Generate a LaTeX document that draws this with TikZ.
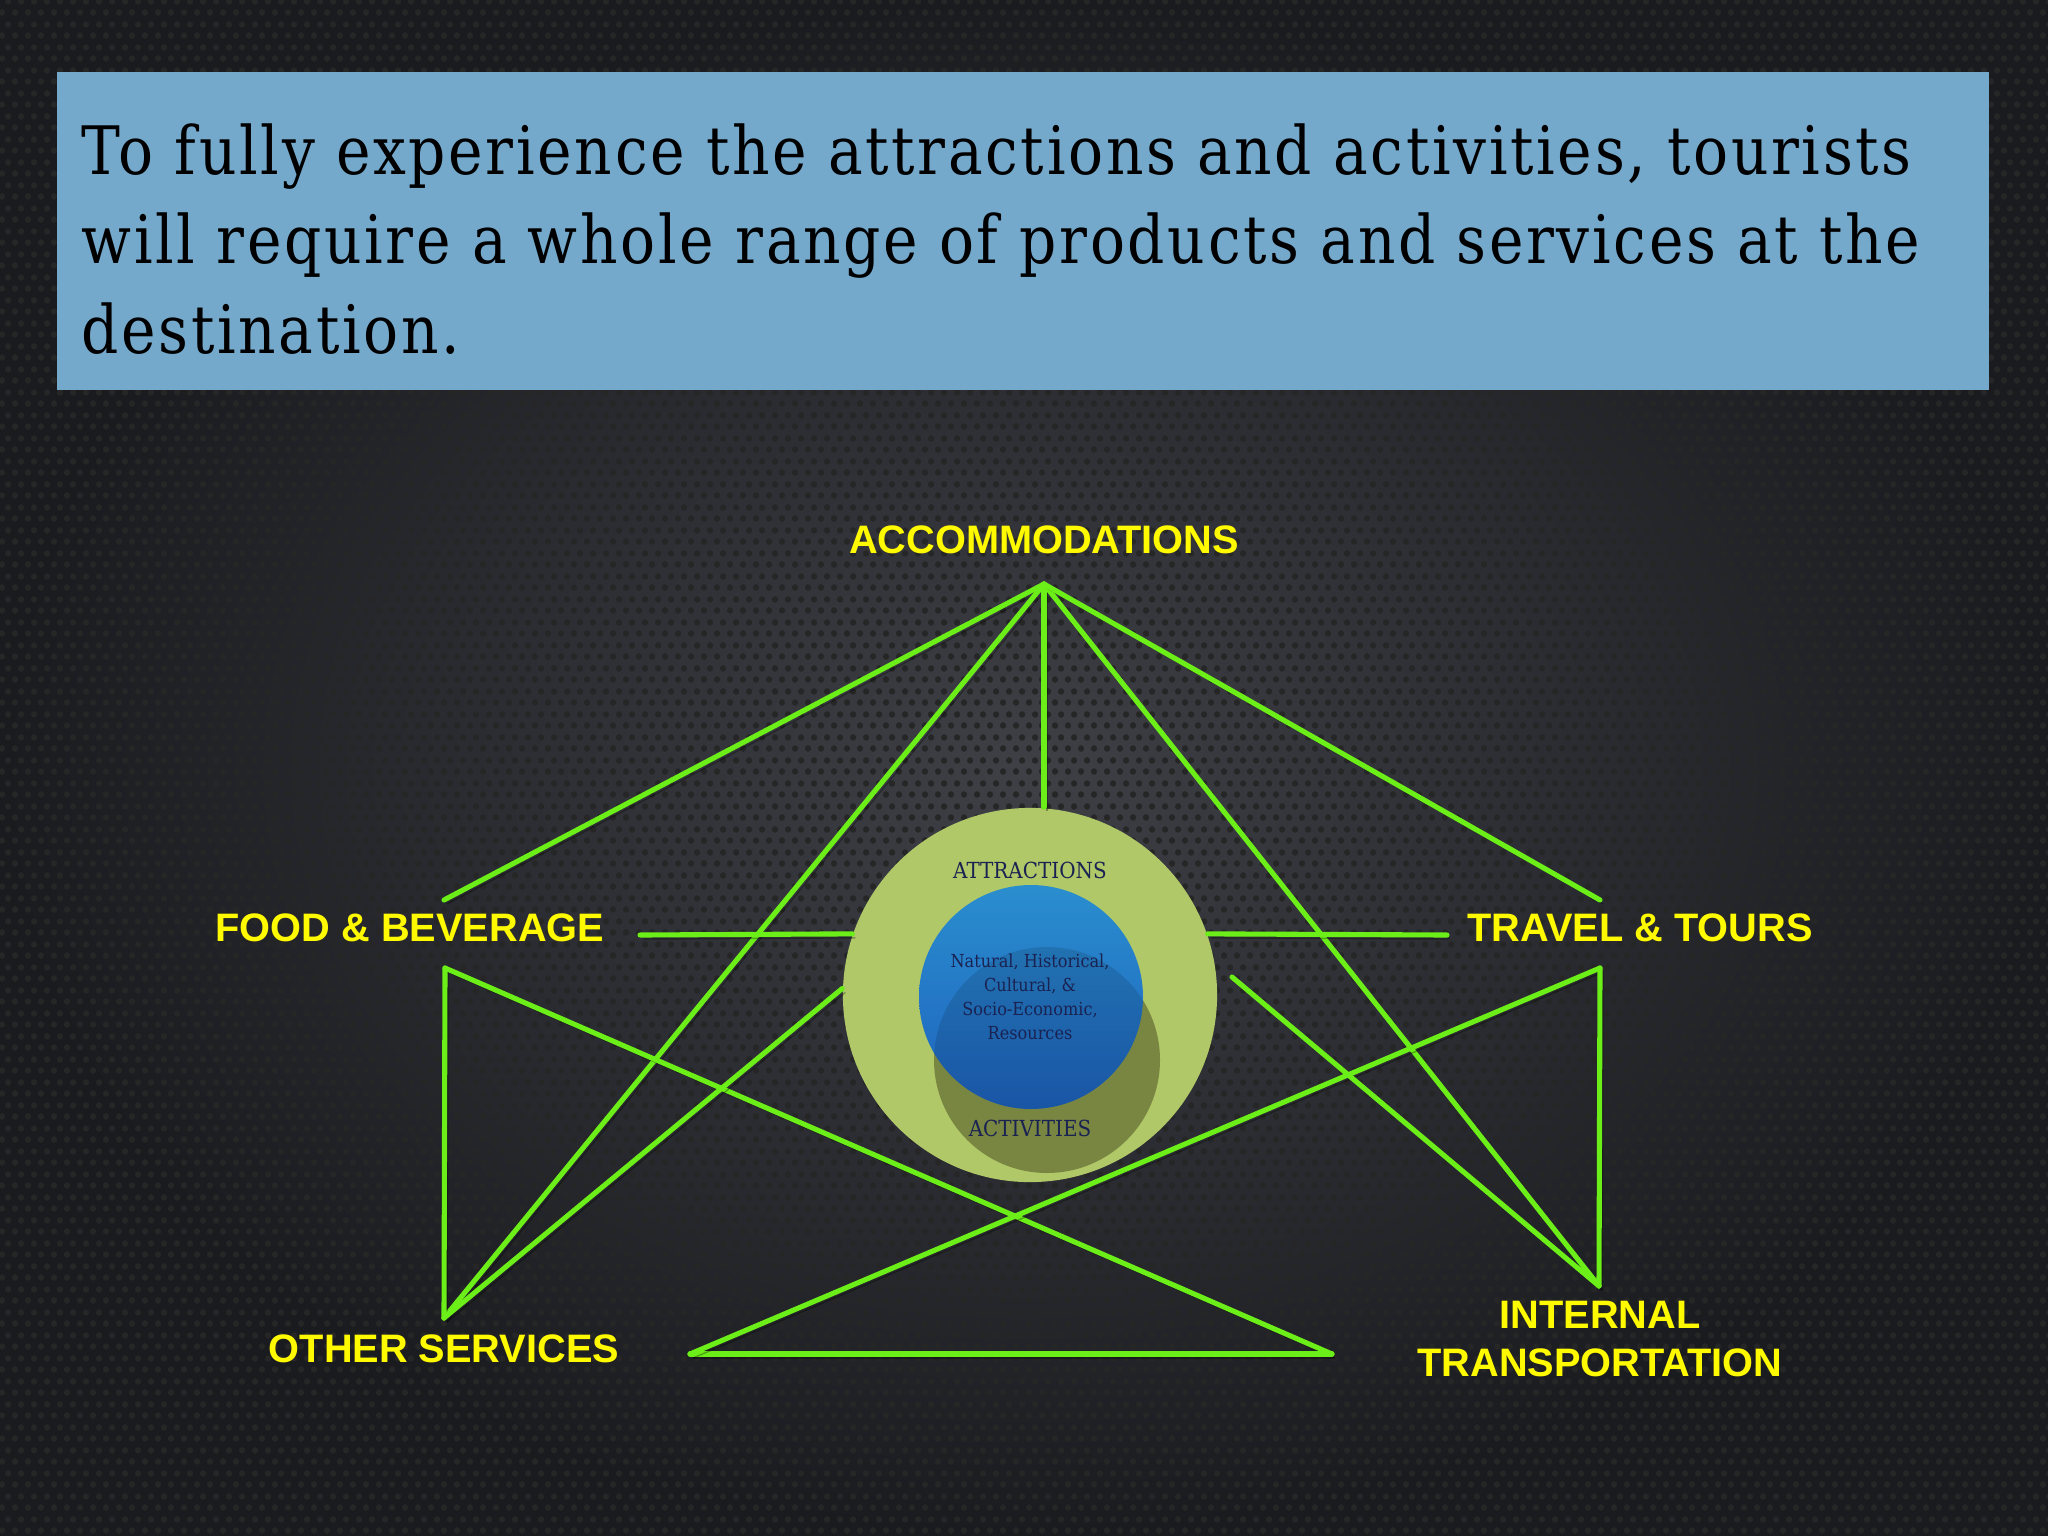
\documentclass[tikz,border=0pt]{standalone}
\usepackage{fontspec}
\usepackage{tikz}
\usetikzlibrary{calc,positioning,shadings,patterns}
\setmainfont{Liberation Sans}
\newfontfamily\slabfont[FakeStretch=0.872,LetterSpace=4]{DejaVu Serif}
\newfontfamily\smallslab[FakeStretch=0.9]{DejaVu Serif}
\definecolor{slidedark}{RGB}{26,27,31}
\definecolor{slidemid}{RGB}{62,64,70}
\definecolor{bannerblue}{RGB}{116,169,204}
\definecolor{labelyellow}{RGB}{255,250,0}
\definecolor{linkgreen}{RGB}{108,238,24}
\definecolor{outergreen}{RGB}{176,200,104}
\definecolor{olive}{RGB}{120,134,66}
\definecolor{bluetop}{RGB}{42,142,206}
\definecolor{bluebot}{RGB}{30,98,190}
\definecolor{navy}{RGB}{26,34,82}
\pgfdeclarepatternformonly{holes}{\pgfpointorigin}{\pgfpoint{3.7pt}{6.4pt}}{\pgfpoint{3.7pt}{6.4pt}}{
    \pgfpathcircle{\pgfpoint{0.925pt}{1.6pt}}{0.95pt}
    \pgfpathcircle{\pgfpoint{2.775pt}{4.8pt}}{0.95pt}
    \pgfusepath{fill}}
\tikzstyle{headline}  = [font=\slabfont\fontsize{19}{25}\selectfont, text=black, inner sep=0pt, anchor=base west]
\tikzstyle{sidelabel} = [font=\fontsize{11.3}{13.4}\selectfont\bfseries, text=labelyellow, align=center, inner sep=0pt]
\tikzstyle{circletext}= [text=navy, align=center, inner sep=0pt]
\tikzstyle{greenline} = [line width=1.45pt, draw=linkgreen, line cap=round,
                         preaction={draw=black, opacity=0.3, transform canvas={shift={(3,4)}}}]

\begin{document}
\begin{tikzpicture}[x=0.01cm, y=-0.01cm]
        \useasboundingbox (0,0) rectangle (2048,1536);
        \shade[inner color=slidemid, outer color=slidedark] (0,0) rectangle (2048,1536);
        \fill[pattern=holes, pattern color=black!85] (0,0) rectangle (2048,1536);

        \fill[bannerblue] (57,72) rectangle (1989,390);
        \node[headline] (hl1) at (81,174) {To fully experience the attractions and activities, tourists};
        \node[headline] (hl2) at (81,263) {will require a whole range of products and services at the};
        \node[headline] (hl3) at (81,353) {destination.};

        \node[circle, fill=outergreen, minimum size=3.74cm, inner sep=0pt] (attr) at (1030,995) {};
        \fill[olive] (1047,1060) circle (113);
        \shade[top color=bluetop, bottom color=bluebot] (1031,997) circle (112);
        \begin{scope}
            \clip (1047,1060) circle (113);
            \fill[black, opacity=0.12] (1031,997) circle (112);
        \end{scope}
        \node[circletext, font=\smallslab\fontsize{6.3}{7}\selectfont, anchor=base] (attrtitle) at (1030,878) {ATTRACTIONS};
        \node[circletext, font=\smallslab\fontsize{5.1}{6.83}\selectfont] (resources) at (1030,997)
            {Natural, Historical,\\Cultural, \&\\Socio-Economic,\\Resources};
        \node[circletext, font=\smallslab\fontsize{6.3}{7}\selectfont, anchor=base] (acttitle) at (1030,1136) {ACTIVITIES};

        \node[sidelabel, anchor=base] (accom) at (1044,553) {ACCOMMODATIONS};
        \node[sidelabel, anchor=base] (food) at (410,941) {FOOD \& BEVERAGE};
        \node[sidelabel, anchor=base] (travel) at (1640,941) {TRAVEL \& TOURS};
        \node[sidelabel, anchor=base] (other) at (444,1362) {OTHER SERVICES};
        \node[sidelabel, anchor=base] (internal) at (1600,1376) {INTERNAL\\TRANSPORTATION};

        \coordinate (apex) at (1044,584);
        \coordinate (fbTop) at (444,900);
        \coordinate (fbBot) at (445,968);
        \coordinate (fbEnd) at (640,935);
        \coordinate (ttTop) at (1600,900);
        \coordinate (ttBot) at (1600,968);
        \coordinate (ttEnd) at (1447,935);
        \coordinate (osPt) at (444,1318);
        \coordinate (itPt) at (1599,1286);
        \coordinate (botL) at (690,1354);
        \coordinate (botR) at (1332,1354);
        \coordinate (crPt) at (1232,977);

        \draw[greenline] (apex) -- (fbTop);
        \draw[greenline] (apex) -- (osPt);
        \draw[greenline] (apex) -- (attr.north -| apex);
        \draw[greenline] (apex) -- (itPt);
        \draw[greenline] (apex) -- (ttTop);
        \draw[greenline] (fbEnd) -- (attr.161);
        \draw[greenline] (attr.19) -- (ttEnd);
        \draw[greenline] (fbBot) -- (osPt);
        \draw[greenline] (fbBot) -- (botR);
        \draw[greenline] (botL) -- (botR);
        \draw[greenline] (botL) -- (ttBot);
        \draw[greenline] (ttBot) -- (itPt);
        \draw[greenline] (osPt) -- (attr.178);
        \draw[greenline] (crPt) -- (itPt);
\end{tikzpicture}
\end{document}
